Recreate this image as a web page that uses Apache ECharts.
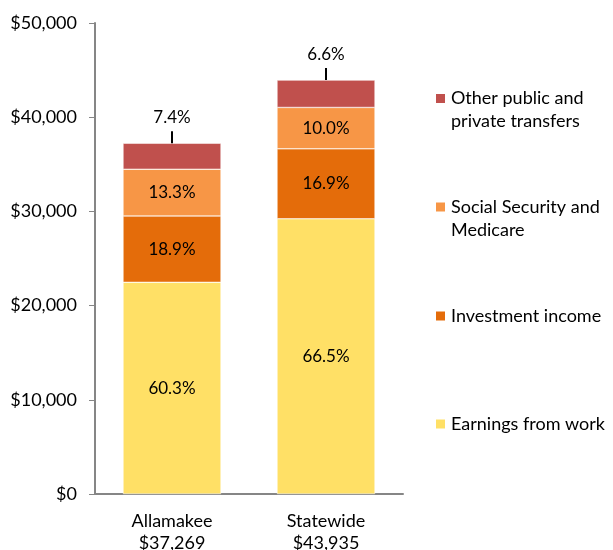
<!DOCTYPE html>
<html><head><meta charset="utf-8">
<script src="https://cdn.jsdelivr.net/npm/echarts@6/dist/echarts.min.js"></script>
<style>html,body{margin:0;padding:0;background:#fff}#c{width:613px;height:550px}</style>
</head><body><div id="c"></div>
<script>
var categories = ['Allamakee\n$37,269', 'Statewide\n$43,935'];
var seriesNames = ['Earnings from work', 'Investment income', 'Social Security and Medicare', 'Other public and private transfers'];
var earnings = [22473, 29217];
var investment = [7044, 7425];
var socialSecurity = [4957, 4394];
var otherTransfers = [2758, 2900];
var earningsPct = ['60.3%', '66.5%'];
var investmentPct = ['18.9%', '16.9%'];
var socialPct = ['13.3%', '10.0%'];
var otherPct = ['7.4%', '6.6%'];
var yTicks = [0, 10000, 20000, 30000, 40000, 50000];

var colors = ['#FFE066', '#E46C0A', '#F79646', '#C0504D'];
var values = [earnings, investment, socialSecurity, otherTransfers];
var pcts = [earningsPct, investmentPct, socialPct, otherPct];
var totals = categories.map(function (c, i) { return values.reduce(function (s, v) { return s + v[i]; }, 0); });
var FONT = 'Lato';

var series = seriesNames.map(function (name, k) {
  var isTop = k === 3;
  return {
    name: name, type: 'bar', stack: 'total', barWidth: 98,
    itemStyle: { color: colors[k], borderColor: '#fff', borderWidth: 0.5 },
    label: {
      show: true, position: isTop ? 'top' : 'inside', distance: isTop ? 17 : 5,
      color: '#000', fontFamily: FONT, fontSize: 17,
      formatter: function (p) { return pcts[k][p.dataIndex]; }
    },
    data: values[k]
  };
});
series.push({
  type: 'custom', name: 'leader', silent: true, z: 5,
  renderItem: function (params, api) {
    var p = api.coord([api.value(0), api.value(1)]);
    return { type: 'line', shape: { x1: p[0], y1: p[1], x2: p[0], y2: p[1] - 12 },
      style: { stroke: '#000', lineWidth: 2 } };
  },
  data: totals.map(function (t, i) { return [i, t]; })
});

var legendText = {};
legendText[seriesNames[3]] = '\nOther public and\nprivate transfers';
legendText[seriesNames[2]] = '\nSocial Security and\nMedicare';
legendText[seriesNames[1]] = 'Investment income';
legendText[seriesNames[0]] = 'Earnings from work';
var legendDefs = [
  { name: seriesNames[3], center: 98.5, lines: 2 },
  { name: seriesNames[2], center: 207, lines: 2 },
  { name: seriesNames[1], center: 316, lines: 1 },
  { name: seriesNames[0], center: 424, lines: 1 }
];

var chart = echarts.init(document.getElementById('c'), null, { renderer: 'canvas' });
chart.setOption({
  animation: false,
  backgroundColor: '#fff',
  grid: { left: 95, right: 210, top: 23, bottom: 56, containLabel: false, outerBoundsMode: 'none' },
  legend: legendDefs.map(function (l) {
    var two = l.lines === 2;
    return {
      data: [l.name], left: 434, top: two ? l.center - 34.5 : l.center - 11.5, orient: 'vertical',
      itemWidth: 11, itemHeight: 11, itemGap: 6, icon: 'rect',
      formatter: function (n) { return legendText[n]; },
      textStyle: { fontFamily: FONT, fontSize: 18, color: '#000', lineHeight: 23 },
      selectedMode: false, padding: 0
    };
  }),
  xAxis: {
    type: 'category', data: categories,
    axisLine: { lineStyle: { color: '#868686', width: 2 } },
    axisTick: { show: false },
    axisLabel: { color: '#000', fontFamily: FONT, fontSize: 18, lineHeight: 22, margin: 16 }
  },
  yAxis: {
    type: 'value', min: yTicks[0], max: yTicks[yTicks.length - 1], interval: 10000,
    axisLine: { show: true, lineStyle: { color: '#868686', width: 2 } },
    axisTick: { show: true, length: 6, lineStyle: { color: '#868686', width: 1 } },
    splitLine: { show: false },
    axisLabel: { color: '#000', fontFamily: FONT, fontSize: 18, margin: 18,
      formatter: function (v) { return '$' + v.toLocaleString('en-US'); } }
  },
  series: series
});
</script></body></html>
